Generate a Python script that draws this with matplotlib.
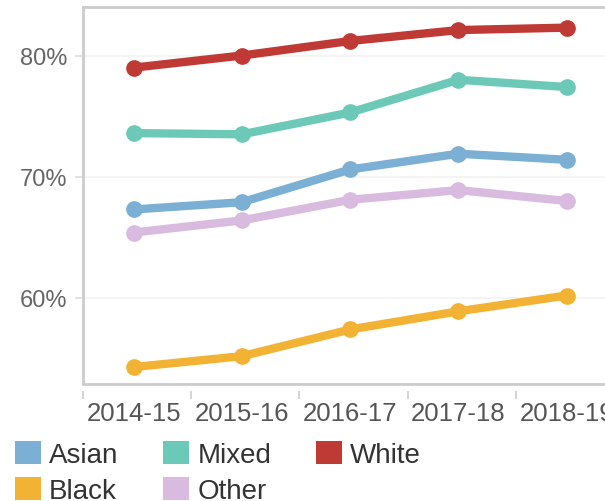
import matplotlib.pyplot as plt
from matplotlib.patches import Patch
from matplotlib.ticker import FuncFormatter

# Data
years = ['2014-15', '2015-16', '2016-17', '2017-18', '2018-19']
asian = [67.3, 67.9, 70.6, 71.9, 71.4]
black = [54.3, 55.2, 57.4, 58.9, 60.2]
mixed = [73.6, 73.5, 75.3, 78.0, 77.4]
other = [65.4, 66.4, 68.1, 68.9, 68.0]
white = [79.0, 80.0, 81.2, 82.1, 82.3]

colors = {'Asian': '#7bafd4', 'Black': '#f2b233', 'Mixed': '#6cc9b7',
          'Other': '#d8bbdf', 'White': '#bf3a35'}

plt.rcParams['font.family'] = ['Liberation Sans', 'DejaVu Sans']

fig = plt.figure(figsize=(6.05, 5.02), dpi=100)
ax = fig.add_axes([0.137, 0.233, 0.88, 0.751])

x = list(range(len(years)))
series = [('Asian', asian), ('Black', black), ('Mixed', mixed),
          ('Other', other), ('White', white)]
for name, vals in series:
    ax.plot(x, vals, color=colors[name], lw=6, marker='o', ms=11,
            solid_capstyle='round', zorder=3)

ax.set_xlim(-0.47, 4.45)
ax.set_ylim(52.9, 84.0)

# y axis
ax.set_yticks([60, 70, 80])
ax.yaxis.set_major_formatter(FuncFormatter(lambda v, p: f'{v:.0f}%'))
ax.tick_params(axis='y', length=6, width=1.2, color='#dddddd', pad=5,
               labelsize=17, labelcolor='#666666')
ax.grid(axis='y', color='#f2f2f2', lw=1.2, zorder=0)

# x axis labels centred on points, tick marks on boundaries (offset below)
ax.set_xticks(x)
ax.set_xticklabels(years)
ax.tick_params(axis='x', length=0, pad=12, labelsize=18.5, labelcolor='#555555')
sec = ax.secondary_xaxis(-0.018)
sec.set_xticks([i - 0.47 for i in range(6)])
sec.set_xticklabels([])
sec.tick_params(axis='x', length=6, width=1.2, color='#cccccc')
sec.spines['bottom'].set_visible(False)

for side in ['left', 'top', 'bottom']:
    ax.spines[side].set_color('#cccccc')
    ax.spines[side].set_linewidth(2)
ax.spines['right'].set_visible(False)

# legend
handles = [Patch(facecolor=colors[n], edgecolor='none', label=n) for n, _ in series]
fig.legend(handles=handles, ncol=3, loc='upper left',
           bbox_to_anchor=(0.025, 0.12), frameon=False, fontsize=20,
           handlelength=0.92, handleheight=0.92, handletextpad=0.3,
           columnspacing=1.62, labelspacing=0.32, labelcolor='#333333',
           borderaxespad=0, borderpad=0)

fig.savefig('out.png', dpi=100)
